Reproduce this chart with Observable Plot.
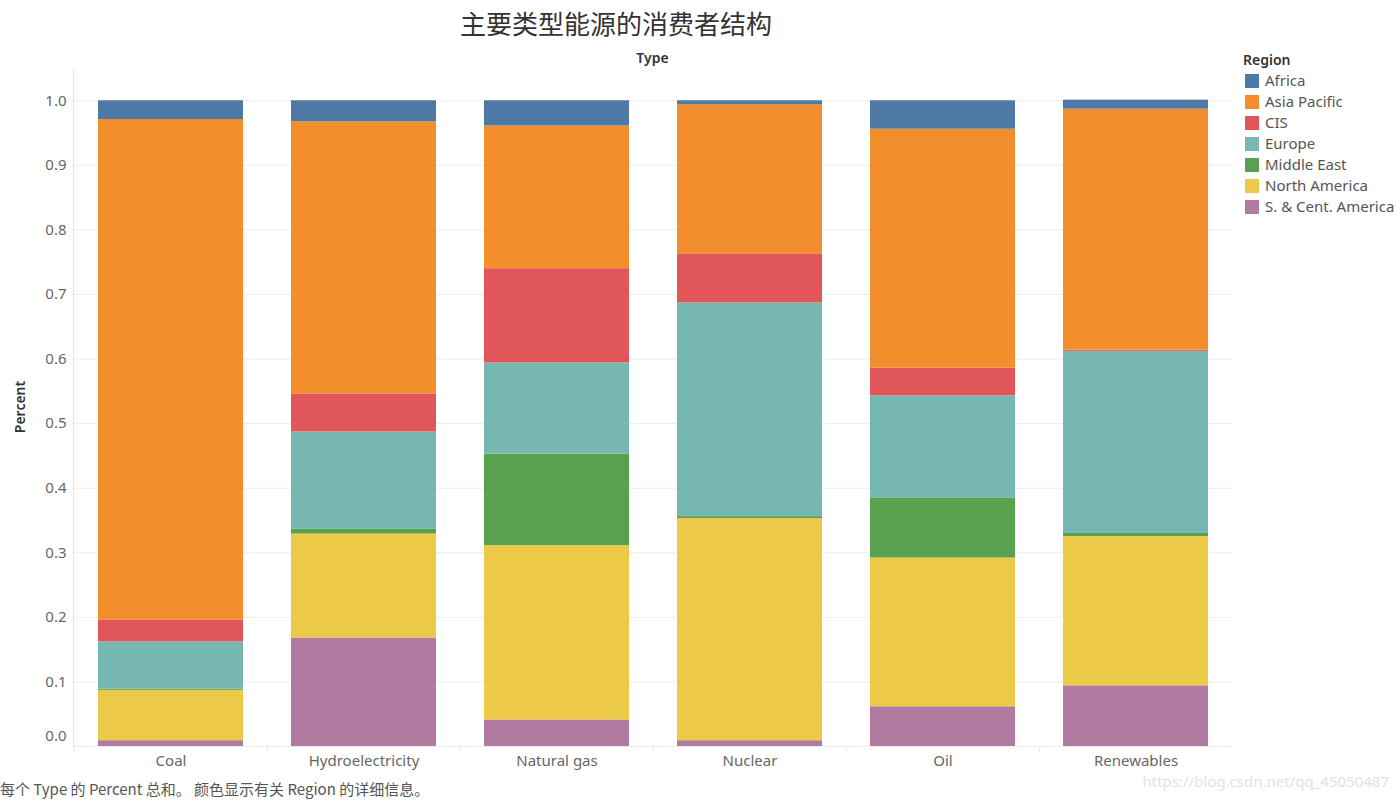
<!DOCTYPE html>
<html>
<head>
<meta charset="utf-8">
<script src="https://cdn.jsdelivr.net/npm/d3@7"></script>
<script src="https://cdn.jsdelivr.net/npm/@observablehq/plot@0.6"></script>
<style>
  html, body { margin: 0; padding: 0; background: #fff; }
  body { width: 1397px; height: 800px; position: relative; overflow: hidden;
         font-family: "Noto Sans", "Noto Sans CJK SC", sans-serif; }
  #title { position: absolute; left: 0; width: 1232px; top: 5px; text-align: center;
           font-family: "Noto Sans CJK SC", sans-serif; font-size: 26px; color: #333; line-height: 36px; }
  #typeHead { position: absolute; left: 73px; width: 1159px; top: 48px; text-align: center;
              font-size: 14px; font-weight: 600; color: #333; }
  #chart { position: absolute; left: 0; top: 0; }
  #ylab { position: absolute; left: 10px; top: 407px; transform: translate(-50%, -50%) rotate(-90deg);
          transform-origin: center; font-size: 14px; font-weight: 600; color: #333; white-space: nowrap; margin-left: 9px; }
  #legend { position: absolute; left: 1243px; top: 49px; font-size: 15px; color: #555; }
  #legend .head { font-weight: 600; color: #333; font-size: 14px; margin-bottom: 0px; height: 21px; line-height: 21px; }
  #legend .item { height: 21px; line-height: 21px; display: flex; align-items: center; }
  #legend .sw { width: 14px; height: 14px; margin-left: 2px; margin-right: 6px; }
  #caption { position: absolute; left: 0; top: 778px; font-family: "Noto Sans CJK SC", sans-serif;
             font-size: 15px; color: #555; }
  #mark { position: absolute; right: 8px; top: 771px; font-size: 15px; color: #e2e2e2; }
</style>
</head>
<body>
<div id="title">主要类型能源的消费者结构</div>
<div id="typeHead">Type</div>
<div id="chart"></div>
<div id="ylab">Percent</div>
<div id="legend"></div>
<div id="caption">每个 Type 的 Percent 总和。 颜色显示有关 Region 的详细信息。</div>
<div id="mark">https://blog.csdn.net/qq_45050487</div>
<script>
// ---- data ----
const types = ["Coal", "Hydroelectricity", "Natural gas", "Nuclear", "Oil", "Renewables"];
const regions = ["Africa", "Asia Pacific", "CIS", "Europe", "Middle East", "North America", "S. & Cent. America"];
const regionColors = ["#4e79a7", "#f28e2b", "#e15759", "#76b7b2", "#59a14f", "#edc948", "#b07aa1"];

const africa       = [0.029, 0.0325, 0.039, 0.006, 0.044, 0.014];
const asiaPacific  = [0.775, 0.4215, 0.221, 0.231, 0.370, 0.373];
const cis          = [0.034, 0.059, 0.146, 0.076, 0.043, 0.002];
const europe       = [0.073, 0.150, 0.141, 0.331, 0.158, 0.282];
const middleEast   = [0.002, 0.008, 0.142, 0.003, 0.093, 0.005];
const northAmerica = [0.078, 0.161, 0.270, 0.344, 0.2305, 0.231];
const scAmerica    = [0.009, 0.168, 0.041, 0.009, 0.0615, 0.094];

const yTicks = [0, 0.1, 0.2, 0.3, 0.4, 0.5, 0.6, 0.7, 0.8, 0.9, 1.0];

// ---- build table (bottom of stack first) ----
const seriesByRegion = [africa, asiaPacific, cis, europe, middleEast, northAmerica, scAmerica];
const data = [];
for (let r = regions.length - 1; r >= 0; r--) {
  types.forEach((t, i) => data.push({type: t, region: regions[r], percent: seriesByRegion[r][i]}));
}

const W = 1232, H = 800, MT = 68, MB = 54, ML = 73;
const step = (W - ML) / types.length;

const chart = Plot.plot({
  width: W,
  height: H,
  marginTop: MT,
  marginBottom: MB,
  marginLeft: ML,
  marginRight: 0,
  style: {background: "transparent", fontFamily: "'Noto Sans', sans-serif"},
  x: {domain: types, paddingInner: 0.25, paddingOuter: 0.125, label: null},
  y: {domain: [0, 1.05], label: null},
  color: {domain: regions, range: regionColors},
  marks: [
    Plot.gridY(yTicks, {stroke: "#ececec", strokeOpacity: 1}),
    Plot.frame({anchor: "left", stroke: "#e6e6e6"}),
    Plot.ruleY([0], {stroke: "#ececec"}),
    Plot.barY(data, {x: "type", y: "percent", fill: "region"}),
    Plot.ruleX(types, {x: d => d, dx: -step / 2, y1: 0, y2: -0.0095, stroke: "#e6e6e6"}),
    Plot.ruleX([types[types.length - 1]], {x: d => d, dx: step / 2, y1: 0, y2: -0.0095, stroke: "#e6e6e6"}),
    Plot.axisX({tickSize: 0, tickPadding: 9, fontSize: 15, fill: "#666", label: null}),
    Plot.axisY(yTicks.slice(1), {tickSize: 0, tickPadding: 7, fontSize: 15, fill: "#666",
      tickFormat: d3.format(".1f"), label: null}),
    Plot.axisY([0], {tickSize: 0, tickPadding: 7, fontSize: 15, fill: "#666", dy: -10,
      tickFormat: d3.format(".1f"), label: null})
  ]
});
document.getElementById("chart").appendChild(chart);

// ---- legend ----
const lg = document.getElementById("legend");
const head = document.createElement("div");
head.className = "head"; head.textContent = "Region";
lg.appendChild(head);
regions.forEach((r, i) => {
  const it = document.createElement("div"); it.className = "item";
  const sw = document.createElement("span"); sw.className = "sw"; sw.style.background = regionColors[i];
  const tx = document.createElement("span"); tx.textContent = r;
  it.appendChild(sw); it.appendChild(tx); lg.appendChild(it);
});
</script>
</body>
</html>
